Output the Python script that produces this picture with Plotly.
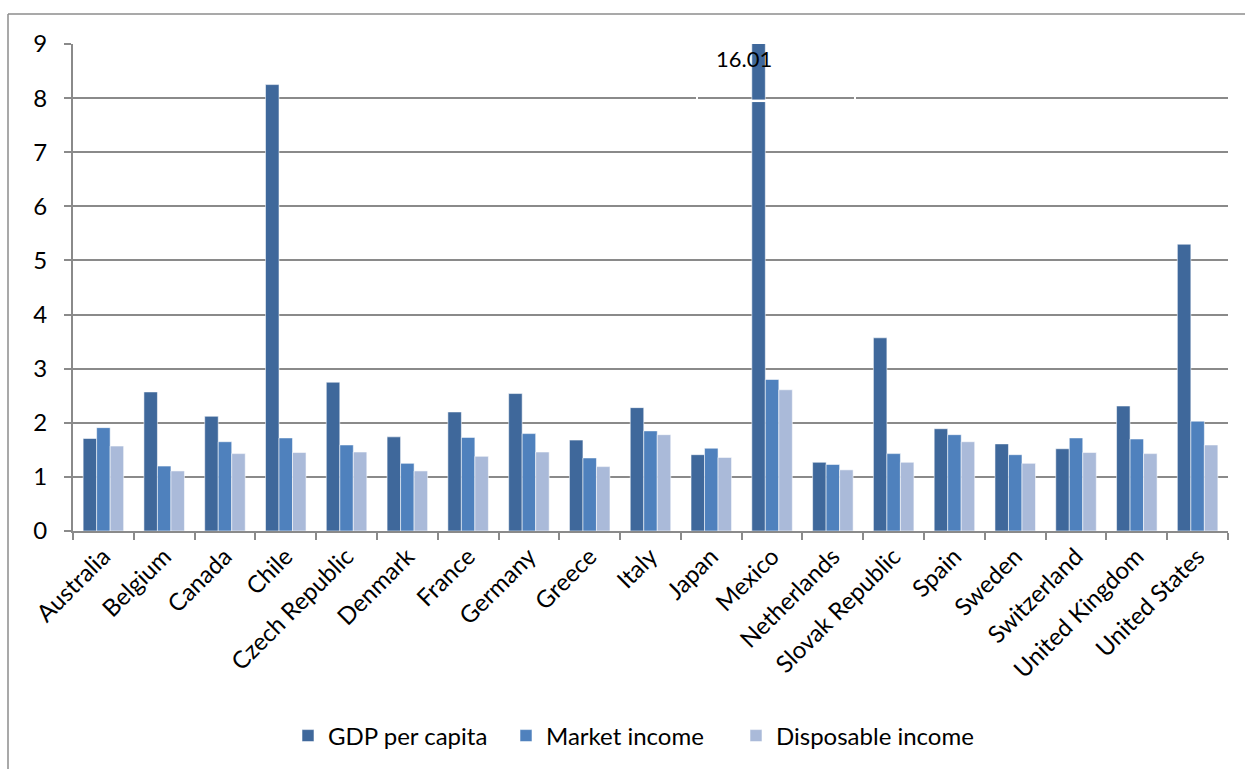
import plotly.graph_objects as go

# Ratio values by country
countries = ["Australia", "Belgium", "Canada", "Chile", "Czech Republic", "Denmark",
             "France", "Germany", "Greece", "Italy", "Japan", "Mexico", "Netherlands",
             "Slovak Republic", "Spain", "Sweden", "Switzerland", "United Kingdom",
             "United States"]
gdp_per_capita = [1.71, 2.57, 2.12, 8.25, 2.75, 1.74, 2.20, 2.54, 1.68, 2.28, 1.41,
                  16.01, 1.27, 3.57, 1.89, 1.61, 1.52, 2.31, 5.30]
market_income = [1.91, 1.20, 1.65, 1.72, 1.59, 1.25, 1.73, 1.80, 1.35, 1.85, 1.53,
                 2.80, 1.23, 1.43, 1.78, 1.41, 1.72, 1.70, 2.03]
disposable_income = [1.57, 1.11, 1.43, 1.45, 1.46, 1.11, 1.38, 1.46, 1.19, 1.78, 1.36,
                     2.61, 1.13, 1.27, 1.65, 1.25, 1.45, 1.43, 1.59]
y_ticks = list(range(0, 10))

Y_MAX = 9
FONT = "Lato"
FS = 24
GRID = "#8a8a8a"

series = [
    ("GDP per capita", gdp_per_capita, "#3f689b"),
    ("Market income", market_income, "#4f81bd"),
    ("Disposable income", disposable_income, "#aabad9"),
]

# Outer chart geometry (pixels) and helpers to convert to paper fractions
W, H = 1245, 769
L, R, T, B = 73, 17, 44, 238
pw, ph = W - L - R, H - T - B
def px(xp):
    return (xp - L) / pw
def py(yp):
    return (H - B - yp) / ph

# Each series gets its own legend box so the entries can be spaced freely
legend_ids = ["legend", "legend2", "legend3"]
legend_left = [288, 506, 736]

fig = go.Figure()
for (name, vals, color), lid in zip(series, legend_ids):
    fig.add_trace(go.Bar(
        name=name, x=countries, y=vals, legend=lid,
        marker=dict(color=color, line=dict(color="rgba(255,255,255,0.55)", width=1)),
    ))

# Values beyond the axis maximum are clipped; mark the break and state the value
BARGAP = 1 / 3
bar_w = (1 - BARGAP) / len(series)
shapes = []
annotations = []
for i, v in enumerate(gdp_per_capita):
    if v > Y_MAX:
        left = i - (1 - BARGAP) / 2
        shapes.append(dict(type="line", xref="x", yref="y",
                           x0=left - 0.02, x1=left + bar_w + 0.02, y0=7.95, y1=7.95,
                           line=dict(color="white", width=2.5), layer="above"))
        for gx in (i - 1.235, i + 1.364):
            shapes.append(dict(type="line", xref="x", yref="y",
                               x0=gx, x1=gx, y0=7.9, y1=8.98,
                               line=dict(color="white", width=2), layer="above"))
        annotations.append(dict(x=i, y=8.74, xref="x", yref="y", xshift=-28,
                                text=f"{v:.2f}", showarrow=False,
                                font=dict(family=FONT, size=FS - 2, color="black")))

# Chart frame
shapes.append(dict(type="line", xref="paper", yref="paper",
                   x0=px(8), x1=px(8), y0=py(14), y1=py(780),
                   line=dict(color="#8c8c8c", width=1.5)))
shapes.append(dict(type="line", xref="paper", yref="paper",
                   x0=px(8), x1=px(1250), y0=py(14), y1=py(14),
                   line=dict(color="#8c8c8c", width=1.5)))

legend_style = dict(orientation="h", y=py(736), yanchor="middle", xanchor="left",
                    font=dict(family=FONT, size=FS), itemwidth=30,
                    bgcolor="rgba(0,0,0,0)")
legends = {lid: dict(legend_style, x=px(xl)) for lid, xl in zip(legend_ids, legend_left)}

fig.update_layout(
    width=W, height=H,
    margin=dict(l=L, r=R, t=T, b=B, autoexpand=False),
    paper_bgcolor="white", plot_bgcolor="white",
    barmode="group", bargap=BARGAP, bargroupgap=0,
    font=dict(family=FONT, size=FS, color="black"),
    showlegend=True,
    shapes=shapes,
    annotations=annotations,
    xaxis=dict(
        type="category", tickangle=-45, tickson="boundaries",
        ticks="outside", ticklen=7, tickcolor=GRID, tickwidth=1.5,
        showline=True, linecolor=GRID, linewidth=2, showgrid=False,
        tickfont=dict(family=FONT, size=FS), range=[-0.5, len(countries) - 0.5],
    ),
    yaxis=dict(
        range=[0, Y_MAX], tickvals=y_ticks, ticks="outside", ticklen=7,
        tickcolor=GRID, tickwidth=1.5, showline=True, linecolor=GRID, linewidth=2,
        showgrid=True, gridcolor=GRID, gridwidth=1.5, zeroline=False,
        tickfont=dict(family=FONT, size=FS), ticklabelstandoff=12,
    ),
    **legends,
)

fig.write_html("out.html")
